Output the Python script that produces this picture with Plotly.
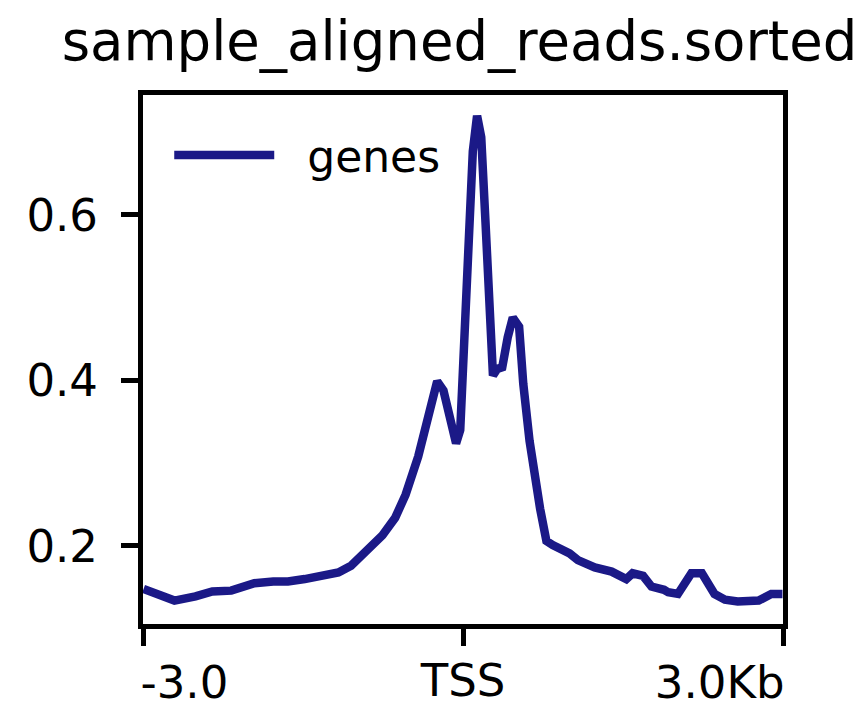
import plotly.graph_objects as go

# Profile around TSS (bp) and mean signal
positions = [-2995, -2705, -2508, -2350, -2173, -1956, -1779, -1641, -1484, -1286,
             -1168, -1050, -912, -755, -636, -538, -420, -341, -242, -183,
             -65, -26, 13, 53, 92, 132, 171, 211, 250, 281,
             321, 368, 419, 467, 526, 565, 624, 664, 723, 782,
             841, 999, 1077, 1235, 1393, 1531, 1590, 1688, 1767, 1885,
             1924, 2015, 2141, 2240, 2358, 2456, 2575, 2772, 2890, 2995]
signal = [0.148, 0.134, 0.139, 0.145, 0.146, 0.155, 0.157, 0.157, 0.160, 0.164,
          0.168, 0.176, 0.193, 0.213, 0.234, 0.262, 0.308, 0.349, 0.399, 0.388,
          0.324, 0.340, 0.461, 0.569, 0.677, 0.720, 0.694, 0.591, 0.483, 0.406,
          0.414, 0.416, 0.452, 0.476, 0.465, 0.396, 0.327, 0.288, 0.245, 0.206,
          0.201, 0.191, 0.183, 0.174, 0.169, 0.160, 0.167, 0.164, 0.151, 0.147,
          0.144, 0.142, 0.167, 0.167, 0.142, 0.135, 0.133, 0.134, 0.142, 0.142]

x_tick_vals = [-3000, 0, 3000]
x_tick_text = ["-3.0", "TSS", "3.0Kb"]
y_tick_vals = [0.2, 0.4, 0.6]
y_tick_text = ["0.2", "0.4", "0.6"]

FONT = "DejaVu Sans"
LINE_COLOR = "#1b1987"
X_RANGE = [x_tick_vals[0], x_tick_vals[-1]]

fig = go.Figure()
fig.add_trace(go.Scatter(
    x=positions, y=signal, mode="lines", name="\u00a0\u00a0genes",
    line=dict(color=LINE_COLOR, width=8.5),
))
# invisible copies so the overlay label axes get drawn
for ax in ("x2", "x3"):
    fig.add_trace(go.Scatter(
        x=positions, y=signal, mode="lines", xaxis=ax, yaxis="y",
        line=dict(color="rgba(0,0,0,0)", width=0), opacity=0,
        showlegend=False, hoverinfo="skip",
    ))

tickfont = dict(family=FONT, size=45, color="black")
axis_common = dict(
    showline=True, linecolor="black", linewidth=5, mirror=True,
    ticks="outside", ticklen=17, tickwidth=5, tickcolor="black",
    showgrid=False, zeroline=False, automargin=False, tickfont=tickfont,
)
# extra overlay axes only carry the edge labels (left-aligned first, right-aligned last)
label_axis = dict(
    overlaying="x", anchor="y", side="bottom", range=X_RANGE,
    showline=False, ticks="outside", ticklen=17, tickwidth=5, tickcolor="rgba(0,0,0,0)",
    showgrid=False, zeroline=False, automargin=False, tickfont=tickfont,
    ticklabelstandoff=19,
)

fig.update_layout(
    width=857, height=708,
    margin=dict(l=135, r=82, t=87, b=92),
    paper_bgcolor="white", plot_bgcolor="white",
    font=dict(family=FONT, color="black"),
    title=dict(text="sample_aligned_reads.sorted", x=0.4946, xref="paper", xanchor="center",
               y=1 - 33 / 708, yref="container", yanchor="middle",
               font=dict(family=FONT, size=54.5, color="black")),
    xaxis=dict(range=X_RANGE, tickvals=x_tick_vals,
               ticktext=["", x_tick_text[1], ""],
               ticklabelstandoff=-4, **axis_common),
    xaxis2=dict(tickvals=[x_tick_vals[0]], ticktext=[x_tick_text[0]],
                ticklabelposition="outside right", ticklabelshift=-5, **label_axis),
    xaxis3=dict(tickvals=[x_tick_vals[-1]], ticktext=[x_tick_text[-1]],
                ticklabelposition="outside left", ticklabelshift=4, **label_axis),
    yaxis=dict(range=[0.1057, 0.745], tickvals=y_tick_vals, ticktext=y_tick_text,
               ticklabelstandoff=14, **axis_common),
    showlegend=True,
    legend=dict(x=0.041, y=0.953, xanchor="left", yanchor="top",
                bgcolor="rgba(0,0,0,0)", itemwidth=100,
                font=dict(family=FONT, size=44, color="black")),
)

fig.write_html("out.html")
